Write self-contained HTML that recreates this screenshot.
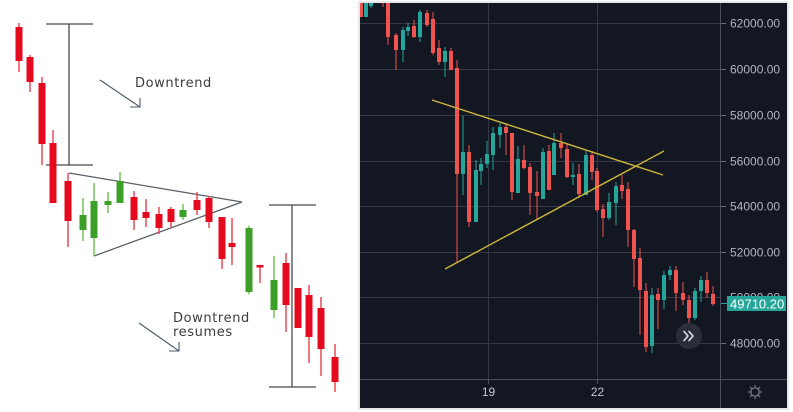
<!DOCTYPE html>
<html><head><meta charset="utf-8"><style>
html,body{margin:0;padding:0;background:#fff;}
body{width:793px;height:412px;overflow:hidden;}
svg{display:block;}
</style></head><body>
<svg width="793" height="412" viewBox="0 0 793 412" xmlns="http://www.w3.org/2000/svg">
<rect width="793" height="412" fill="#ffffff"/>
<!-- LEFT DIAGRAM -->
<g stroke="#4a4a4a" stroke-width="1.3" fill="none">
  <line x1="69" y1="24" x2="69" y2="165"/>
  <line x1="46" y1="24" x2="93" y2="24"/>
  <line x1="46" y1="165" x2="93" y2="165"/>
  <line x1="292" y1="205" x2="292" y2="387"/>
  <line x1="269" y1="205" x2="316" y2="205"/>
  <line x1="269" y1="387" x2="316" y2="387"/>
</g>
<g stroke="#5a6068" stroke-width="1.3" fill="none">
  <line x1="69" y1="173" x2="242" y2="202"/>
  <line x1="94" y1="256" x2="242" y2="202"/>
</g>
<g stroke="#4a5868" stroke-width="1.1" fill="none">
  <line x1="100" y1="80" x2="140" y2="107"/>
  <polyline points="130,107 140,107 140,98"/>
  <line x1="139" y1="323" x2="179" y2="351"/>
  <polyline points="169,351 179,351 179,342"/>
</g>
<g font-family="'DejaVu Sans', 'Liberation Sans', sans-serif" font-size="13" fill="#3c3c3c" letter-spacing="0.6">
  <text x="135" y="87">Downtrend</text>
  <text x="173" y="322">Downtrend</text>
  <text x="173" y="336">resumes</text>
</g>
<!-- left candles: red -->
<g fill="#e5091d">
  <rect x="18.25" y="23" width="1.5" height="49" fill="#ea4a55"/><rect x="15.5" y="27" width="7" height="34"/>
  <rect x="29.25" y="55" width="1.5" height="37" fill="#ea4a55"/><rect x="26.5" y="57" width="7" height="25"/>
  <rect x="41.25" y="77" width="1.5" height="88" fill="#ea4a55"/><rect x="38.5" y="83" width="7" height="61"/>
  <rect x="52.25" y="130" width="1.5" height="73" fill="#ea4a55"/><rect x="49.5" y="143" width="7" height="60"/>
  <rect x="67.25" y="173" width="1.5" height="74" fill="#ea4a55"/><rect x="64.5" y="181" width="7" height="40"/>
  <rect x="133.25" y="191" width="1.5" height="39" fill="#ea4a55"/><rect x="130.5" y="197" width="7" height="23"/>
  <rect x="145.25" y="199" width="1.5" height="28" fill="#ea4a55"/><rect x="142.5" y="212" width="7" height="6"/>
  <rect x="158.25" y="207" width="1.5" height="27" fill="#ea4a55"/><rect x="155.5" y="214" width="7" height="14"/>
  <rect x="170.25" y="207" width="1.5" height="20" fill="#ea4a55"/><rect x="167.5" y="209" width="7" height="13"/>
  <rect x="196.25" y="192" width="1.5" height="23" fill="#ea4a55"/><rect x="193.5" y="200" width="7" height="10"/>
  <rect x="208.25" y="196" width="1.5" height="32" fill="#ea4a55"/><rect x="205.5" y="198" width="7" height="24"/>
  <rect x="221.25" y="217" width="1.5" height="52" fill="#ea4a55"/><rect x="218.5" y="217" width="7" height="42"/>
  <rect x="231.25" y="218" width="1.5" height="47" fill="#ea4a55"/><rect x="228.5" y="243" width="7" height="4"/>
  <rect x="259.25" y="265" width="1.5" height="18" fill="#ea4a55"/><rect x="256.5" y="265" width="7" height="2.5"/>
  <rect x="285.25" y="253" width="1.5" height="79" fill="#ea4a55"/><rect x="282.5" y="263" width="7" height="42"/>
  <rect x="294.5" y="288" width="7" height="40"/>
  <rect x="308.25" y="285" width="1.5" height="78" fill="#ea4a55"/><rect x="305.5" y="295" width="7" height="42"/>
  <rect x="320.25" y="297" width="1.5" height="79" fill="#ea4a55"/><rect x="317.5" y="308" width="7" height="41"/>
  <rect x="334.25" y="344" width="1.5" height="48" fill="#ea4a55"/><rect x="331.5" y="357" width="7" height="25"/>
</g>
<!-- left candles: green -->
<g fill="#3c9f27">
  <rect x="82.25" y="198" width="1.5" height="43" fill="#74c45a"/><rect x="79.5" y="215" width="7" height="15"/>
  <rect x="93.25" y="183" width="1.5" height="73" fill="#74c45a"/><rect x="90.5" y="201" width="7" height="37"/>
  <rect x="107.25" y="192" width="1.5" height="21" fill="#74c45a"/><rect x="104.5" y="201" width="7" height="4"/>
  <rect x="119.25" y="172" width="1.5" height="31" fill="#74c45a"/><rect x="116.5" y="181" width="7" height="22"/>
  <rect x="182.25" y="204" width="1.5" height="16" fill="#74c45a"/><rect x="179.5" y="210" width="7" height="7"/>
  <rect x="248.25" y="226" width="1.5" height="68" fill="#74c45a"/><rect x="245.5" y="228" width="7" height="64"/>
  <rect x="273.25" y="256" width="1.5" height="62" fill="#74c45a"/><rect x="270.5" y="280" width="7" height="30"/>
</g>

<!-- RIGHT CHART -->
<rect x="358" y="1" width="431" height="409" fill="#e6e7e9"/>
<rect x="360" y="3" width="427" height="405" fill="#131722"/>
<g stroke="#343844" stroke-width="1">
  <line x1="360" y1="23.5" x2="720" y2="23.5"/>
  <line x1="360" y1="69.5" x2="720" y2="69.5"/>
  <line x1="360" y1="115.5" x2="720" y2="115.5"/>
  <line x1="360" y1="161.5" x2="720" y2="161.5"/>
  <line x1="360" y1="206.5" x2="720" y2="206.5"/>
  <line x1="360" y1="252.5" x2="720" y2="252.5"/>
  <line x1="360" y1="297.5" x2="720" y2="297.5"/>
  <line x1="360" y1="343.5" x2="720" y2="343.5"/>
  <line x1="488.5" y1="3" x2="488.5" y2="379"/>
  <line x1="597.5" y1="3" x2="597.5" y2="379"/>
</g>
<g stroke="#4a4e5a" stroke-width="1">
  <line x1="360" y1="379.5" x2="787" y2="379.5"/>
  <line x1="720.5" y1="3" x2="720.5" y2="408"/>
  <line x1="488.5" y1="379" x2="488.5" y2="384"/>
  <line x1="597.5" y1="379" x2="597.5" y2="384"/>
</g>
<g stroke="#6a6e7a" stroke-width="1">
  <line x1="721" y1="23.5" x2="726" y2="23.5"/>
  <line x1="721" y1="69.5" x2="726" y2="69.5"/>
  <line x1="721" y1="115.5" x2="726" y2="115.5"/>
  <line x1="721" y1="161.5" x2="726" y2="161.5"/>
  <line x1="721" y1="206.5" x2="726" y2="206.5"/>
  <line x1="721" y1="252.5" x2="726" y2="252.5"/>
  <line x1="721" y1="343.5" x2="726" y2="343.5"/>
</g>
<defs><clipPath id="pc"><rect x="360" y="3" width="360" height="376"/></clipPath></defs>
<g clip-path="url(#pc)">
<g fill="#ef5350">
  <rect x="360.5" y="2" width="1" height="15"/><rect x="359" y="2" width="4" height="15"/>
  <rect x="382.5" y="2" width="1" height="5"/>
  <rect x="387.5" y="2" width="1" height="43"/><rect x="386" y="2" width="4" height="35"/>
  <rect x="395.5" y="33" width="1" height="37"/><rect x="394" y="35" width="4" height="15"/>
  <rect x="413.5" y="20" width="1" height="18"/><rect x="412" y="26" width="4" height="11"/>
  <rect x="426.5" y="10" width="1" height="17"/><rect x="425" y="13" width="4" height="12"/>
  <rect x="432.5" y="12" width="1" height="43"/><rect x="431" y="19" width="4" height="34"/>
  <rect x="438.5" y="40" width="1" height="25"/><rect x="437" y="48" width="4" height="14"/>
  <rect x="450.5" y="48" width="1" height="22"/><rect x="449" y="51" width="4" height="19"/>
  <rect x="456.5" y="60" width="1" height="202"/><rect x="455" y="68" width="4" height="106"/>
  <rect x="468.5" y="145" width="1" height="82"/><rect x="467" y="152" width="4" height="70"/>
  <rect x="505.5" y="123" width="1" height="32"/><rect x="504" y="127" width="4" height="6"/>
  <rect x="511.5" y="133" width="1" height="67"/><rect x="510" y="133" width="4" height="59"/>
  <rect x="523.5" y="145" width="1" height="24"/><rect x="522" y="160" width="4" height="8"/>
  <rect x="529.5" y="163" width="1" height="52"/><rect x="528" y="167" width="4" height="26"/>
  <rect x="536.5" y="171" width="1" height="48"/><rect x="535" y="192" width="4" height="4"/>
  <rect x="548.5" y="145" width="1" height="45"/><rect x="547" y="151" width="4" height="39"/>
  <rect x="560.5" y="133" width="1" height="25"/><rect x="559" y="143" width="4" height="5"/>
  <rect x="566.5" y="144" width="1" height="34"/><rect x="565" y="149" width="4" height="28"/>
  <rect x="578.5" y="164" width="1" height="34"/><rect x="577" y="174" width="4" height="20"/>
  <rect x="591.5" y="151" width="1" height="29"/><rect x="590" y="155" width="4" height="17"/>
  <rect x="596.5" y="168" width="1" height="44"/><rect x="595" y="171" width="4" height="39"/>
  <rect x="602.5" y="204" width="1" height="33"/><rect x="601" y="209" width="4" height="9"/>
  <rect x="621.5" y="175" width="1" height="24"/><rect x="620" y="185" width="4" height="6"/>
  <rect x="627.5" y="182" width="1" height="65"/><rect x="626" y="189" width="4" height="41"/>
  <rect x="633.5" y="229" width="1" height="58"/><rect x="632" y="230" width="4" height="29"/>
  <rect x="639.5" y="248" width="1" height="87"/><rect x="638" y="258" width="4" height="32"/>
  <rect x="645.5" y="283" width="1" height="69"/><rect x="644" y="291" width="4" height="56"/>
  <rect x="657.5" y="288" width="1" height="41"/><rect x="656" y="294" width="4" height="6"/>
  <rect x="675.5" y="266" width="1" height="45"/><rect x="674" y="270" width="4" height="23"/>
  <rect x="682.5" y="282" width="1" height="23"/><rect x="681" y="293" width="4" height="7"/>
  <rect x="688.5" y="295" width="1" height="29"/><rect x="687" y="300" width="4" height="18"/>
  <rect x="706.5" y="272" width="1" height="26"/><rect x="705" y="280" width="4" height="13"/>
  <rect x="712.5" y="286" width="1" height="20"/><rect x="711" y="294" width="4" height="10"/>
</g>
<g fill="#26a69a">
  <rect x="365.5" y="2" width="1" height="15"/><rect x="364" y="3" width="4" height="14"/>
  <rect x="370.5" y="2" width="1" height="6"/><rect x="369" y="2" width="4" height="4"/>
  <rect x="402.5" y="27" width="1" height="35"/><rect x="401" y="30" width="4" height="20"/>
  <rect x="407.5" y="23" width="1" height="13"/><rect x="406" y="27" width="4" height="4"/>
  <rect x="419.5" y="10" width="1" height="32"/><rect x="418" y="12" width="4" height="25"/>
  <rect x="444.5" y="47" width="1" height="30"/><rect x="443" y="51" width="4" height="11"/>
  <rect x="462.5" y="116" width="1" height="79"/><rect x="461" y="152" width="4" height="22"/>
  <rect x="475.5" y="160" width="1" height="62"/><rect x="474" y="170" width="4" height="52"/>
  <rect x="480.5" y="158" width="1" height="27"/><rect x="479" y="164" width="4" height="7"/>
  <rect x="486.5" y="141" width="1" height="27"/><rect x="485" y="154" width="4" height="10"/>
  <rect x="492.5" y="127" width="1" height="43"/><rect x="491" y="133" width="4" height="22"/>
  <rect x="499.5" y="123" width="1" height="25"/><rect x="498" y="127" width="4" height="8"/>
  <rect x="517.5" y="146" width="1" height="47"/><rect x="516" y="159" width="4" height="34"/>
  <rect x="542.5" y="148" width="1" height="51"/><rect x="541" y="152" width="4" height="47"/>
  <rect x="553.5" y="133" width="1" height="42"/><rect x="552" y="143" width="4" height="32"/>
  <rect x="572.5" y="163" width="1" height="22"/><rect x="571" y="175" width="4" height="2"/>
  <rect x="585.5" y="151" width="1" height="44"/><rect x="584" y="155" width="4" height="40"/>
  <rect x="608.5" y="193" width="1" height="27"/><rect x="607" y="202" width="4" height="16"/>
  <rect x="615.5" y="182" width="1" height="43"/><rect x="614" y="186" width="4" height="17"/>
  <rect x="651.5" y="288" width="1" height="65"/><rect x="650" y="295" width="4" height="51"/>
  <rect x="663.5" y="271" width="1" height="38"/><rect x="662" y="275" width="4" height="25"/>
  <rect x="669.5" y="266" width="1" height="14"/><rect x="668" y="270" width="4" height="5"/>
  <rect x="694.5" y="288" width="1" height="32"/><rect x="693" y="291" width="4" height="27"/>
  <rect x="700.5" y="276" width="1" height="26"/><rect x="699" y="280" width="4" height="11"/>
</g>
<g stroke="#cdb83a" stroke-width="1.4">
  <line x1="432" y1="100" x2="663" y2="175"/>
  <line x1="445" y1="269" x2="664" y2="151"/>
</g>
</g>
<!-- chevron button -->
<circle cx="689" cy="336" r="13" fill="#2a2e39"/>
<g stroke="#e0e3eb" stroke-width="1.6" fill="none" stroke-linecap="round" stroke-linejoin="round">
  <polyline points="684,331.5 688,336 684,340.5"/>
  <polyline points="689,331.5 693,336 689,340.5"/>
</g>
<!-- price labels -->
<g font-family="'Liberation Sans', sans-serif" font-size="12" fill="#b2b5be">
  <text x="730" y="27.5">62000.00</text>
  <text x="730" y="73.5">60000.00</text>
  <text x="730" y="119.5">58000.00</text>
  <text x="730" y="165.5">56000.00</text>
  <text x="730" y="210.5">54000.00</text>
  <text x="730" y="256.5">52000.00</text>
  <text x="730" y="301.5">50000.00</text>
  <text x="730" y="347.5">48000.00</text>
</g>
<line x1="721" y1="303.5" x2="727" y2="303.5" stroke="#26a69a" stroke-width="1"/>
<rect x="727" y="296" width="59" height="15" fill="#26a69a"/>
<text x="730" y="308.5" font-family="'Liberation Sans', sans-serif" font-size="13" fill="#ffffff">49710.20</text>
<g font-family="'Liberation Sans', sans-serif" font-size="12" fill="#c3c6ce" text-anchor="middle">
  <text x="488.5" y="396">19</text>
  <text x="597.5" y="396">22</text>
</g>
<!-- gear -->
<g stroke="#7d808b" stroke-width="1.2" fill="none">
  <circle cx="755" cy="392" r="4.2"/>
  <line x1="755" y1="385" x2="755" y2="387.3"/>
  <line x1="755" y1="396.7" x2="755" y2="399"/>
  <line x1="748" y1="392" x2="750.3" y2="392"/>
  <line x1="759.7" y1="392" x2="762" y2="392"/>
  <line x1="750" y1="387" x2="751.7" y2="388.7"/>
  <line x1="758.3" y1="395.3" x2="760" y2="397"/>
  <line x1="760" y1="387" x2="758.3" y2="388.7"/>
  <line x1="751.7" y1="395.3" x2="750" y2="397"/>
</g>
</svg>
</body></html>
